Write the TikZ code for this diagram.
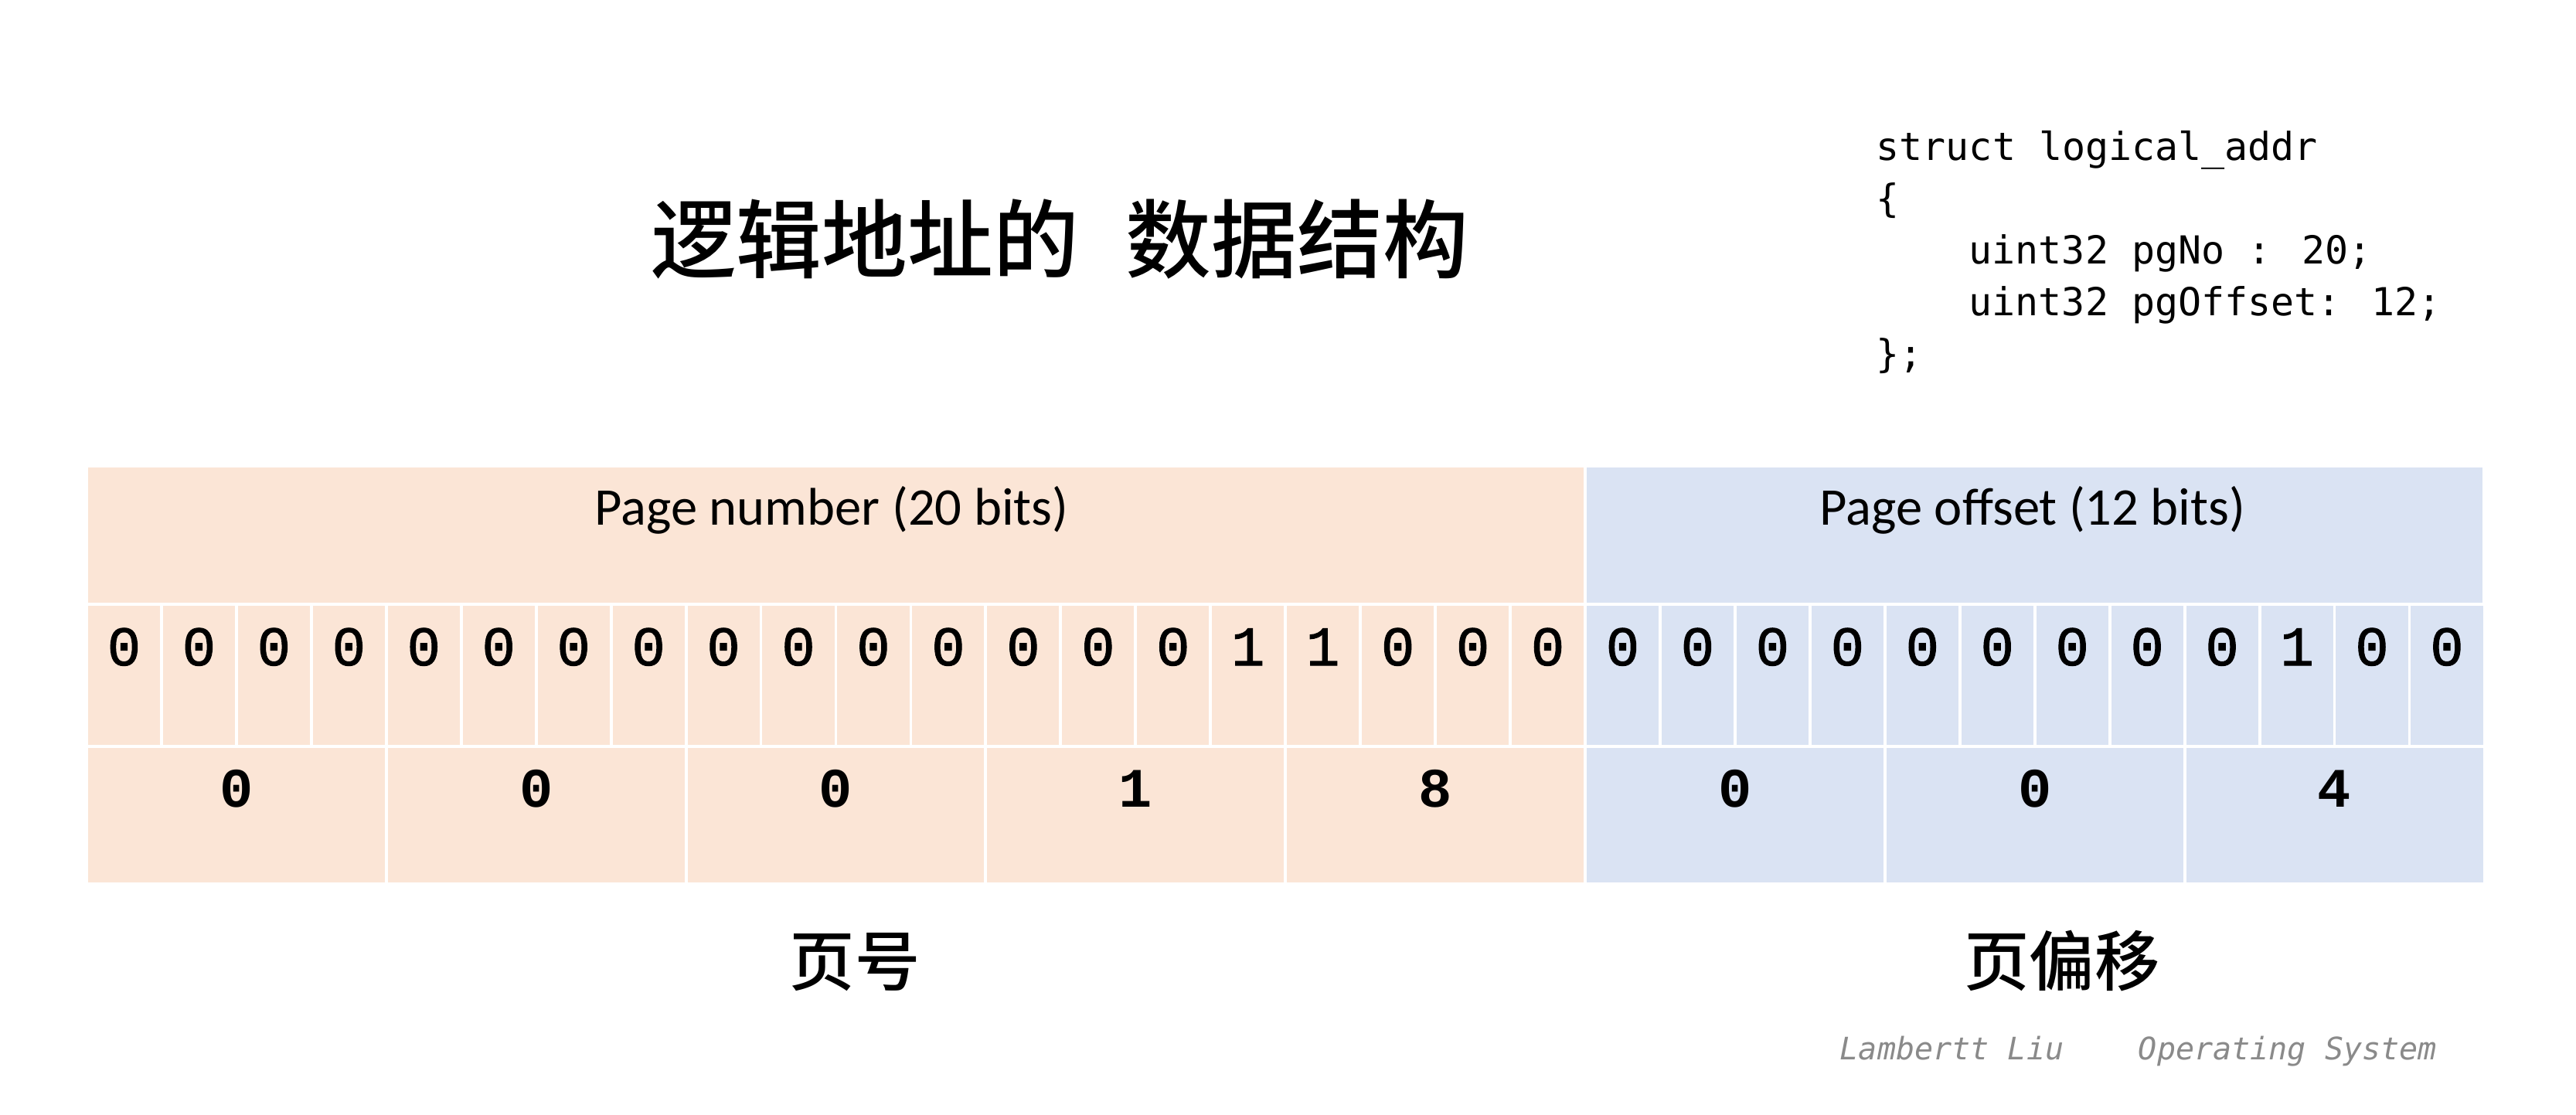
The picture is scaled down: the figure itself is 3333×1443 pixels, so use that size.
\documentclass[tikz,border=0pt]{standalone}
\usepackage{fontspec}
\setmainfont{Carlito}
\newfontfamily\cjk{Noto Sans CJK SC Medium}
\newfontfamily\codefont{DejaVu Sans Mono}
\newfontfamily\bitfont{Liberation Mono}[FakeBold=1.5]
\newfontfamily\hexfont{Liberation Mono}
\newfontfamily\hdrfont{Carlito}
\definecolor{peach}{HTML}{FBE5D6}
\definecolor{paleblue}{HTML}{DAE3F3}
\definecolor{wmgray}{HTML}{8A8A8A}
\begin{document}
\begin{tikzpicture}[x=0.01cm,y=-0.01cm,
  cellL/.style={fill=peach,draw=white,line width=1.1pt},
  cellR/.style={fill=paleblue,draw=white,line width=1.1pt},
  hdrtext/.style={anchor=base,inner sep=0pt,font=\hdrfont\fontsize{19.5}{23}\selectfont},
  bittext/.style={anchor=base,inner sep=0pt,font=\bitfont\fontsize{20.5}{24}\selectfont},
  hextext/.style={anchor=base,inner sep=0pt,font=\hexfont\bfseries\fontsize{20.5}{24}\selectfont},
  cjktitle/.style={anchor=base,inner sep=0pt,font=\cjk\fontsize{31.5}{36}\selectfont},
  cjklabel/.style={anchor=base,inner sep=0pt,font=\cjk\fontsize{24}{28}\selectfont},
  codeline/.style={anchor=base west,inner sep=0pt,font=\codefont\fontsize{14.2}{19}\selectfont},
  wmtext/.style={anchor=base west,inner sep=0pt,text=wmgray,font=\codefont\itshape\fontsize{11.4}{14}\selectfont}]
\useasboundingbox (0,0) rectangle (3333,1443);
\fill[white] (0,0) rectangle (3333,1443);
% header cells
\path[cellL] (112,603) rectangle (2051,782);
\path[cellR] (2051,603) rectangle (3214,782);
\node[hdrtext] (hdrL) at (1076,680) {Page number (20 bits)};
\node[hdrtext] (hdrR) at (2630,680) {Page offset (12 bits)};
% bit cells
\foreach \b [count=\i from 0] in {0,0,0,0,0,0,0,0,0,0,0,0,0,0,0,1,1,0,0,0,0,0,0,0,0,0,0,0,0,1,0,0}{
  \pgfmathsetmacro\xa{112+\i*96.95}
  \pgfmathsetmacro\xb{112+(\i+1)*96.95}
  \pgfmathsetmacro\xc{112+(\i+0.5)*96.95}
  \ifnum\i<20
    \path[cellL] (\xa,782) rectangle (\xb,966);
  \else
    \path[cellR] (\xa,782) rectangle (\xb,966);
  \fi
  \node[bittext] (bit\i) at (\xc,861) {\b};
}
% hex cells
\foreach \h [count=\j from 0] in {0,0,0,1,8,0,0,4}{
  \pgfmathsetmacro\xa{112+\j*4*96.95}
  \pgfmathsetmacro\xb{112+(\j+1)*4*96.95}
  \pgfmathsetmacro\xc{112+(\j+0.5)*4*96.95}
  \ifnum\j<5
    \path[cellL] (\xa,966) rectangle (\xb,1144);
  \else
    \path[cellR] (\xa,966) rectangle (\xb,1144);
  \fi
  \node[hextext] (hex\j) at (\xc,1044) {\h};
}
% title
\node[cjktitle] (title) at (1371,352) {逻辑地址的\hspace{0.55em}数据结构};
% labels
\node[cjklabel] (lblL) at (1106,1275) {页号};
\node[cjklabel] (lblR) at (2668,1275) {页偏移};
% code
\node[codeline] (code1) at (2427,208) {struct logical\_addr};
\node[codeline] (code2) at (2427,275) {\{};
\node[codeline] (code3) at (2547,342) {uint32 pgNo : 20;};
\node[codeline] (code4) at (2547,409) {uint32 pgOffset: 12;};
\node[codeline] (code5) at (2427,476) {\};};
% watermark
\node[wmtext] (wm) at (2380,1371) {Lambertt Liu\ \ \ \ Operating System};
\end{tikzpicture}
\end{document}
